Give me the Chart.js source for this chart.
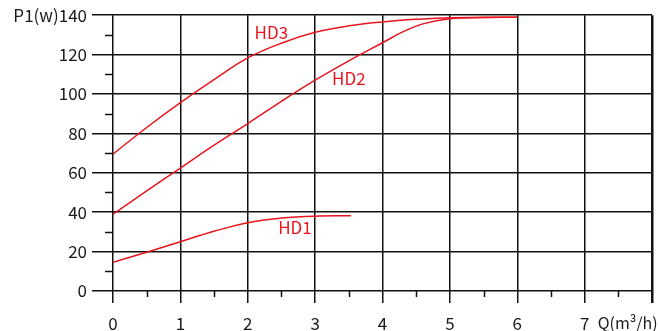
<!DOCTYPE html>
<html>
<head>
<meta charset="utf-8">
<script src="https://cdn.jsdelivr.net/npm/chart.js@4"></script>
<style>
  html, body { margin: 0; padding: 0; background: #fff; }
  #wrap { width: 658px; height: 331px; }
</style>
</head>
<body>
<div id="wrap"><canvas id="chart" width="658" height="331"></canvas></div>
<script>
// --- data ---
const hd1X = [0, 0.5, 1, 1.5, 2, 2.5, 3, 3.53];
const hd1Y = [14.6, 19.7, 25, 30.3, 34.7, 37, 38, 38.2];

const hd2X = [0, 0.5, 1, 1.5, 2, 2.5, 3, 3.5, 4, 4.3, 4.6, 5, 5.5, 6];
const hd2Y = [39, 50.8, 62.4, 74, 85, 96.3, 107, 116.8, 126, 131.5, 135.6, 138.2, 138.8, 139];

const hd3X = [0, 0.5, 1, 1.5, 2, 2.5, 3, 3.5, 4, 4.5, 5, 6];
const hd3Y = [69.5, 83, 95.6, 107.3, 118.3, 125.8, 131.3, 134.6, 136.6, 137.9, 138.7, 139];

const xTicks = [0, 1, 2, 3, 4, 5, 6, 7, 8];
const yTicks = [0, 20, 40, 60, 80, 100, 120, 140];

const RED = '#e8141e';
const INK = '#111';
const FONT = '"Noto Sans CJK SC", "Noto Sans", sans-serif';

function pts(xs, ys) {
  return xs.map((x, i) => ({ x: x, y: ys[i] }));
}

function curve(label, xs, ys) {
  return {
    label: label,
    data: pts(xs, ys),
    borderColor: RED,
    borderWidth: 1.5,
    pointRadius: 0,
    fill: false,
    tension: 0.4
  };
}

// minor ticks, curve names and axis titles
const extras = {
  id: 'extras',
  afterDraw(chart) {
    const ctx = chart.ctx;
    const xs = chart.scales.x, ys = chart.scales.y;
    const a = chart.chartArea;
    ctx.save();
    ctx.strokeStyle = INK;
    ctx.lineWidth = 1.5;
    ctx.beginPath();
    for (let v = 10; v < 140; v += 20) {
      const y = Math.round(ys.getPixelForValue(v)) + 0.5;
      ctx.moveTo(a.left - 8, y);
      ctx.lineTo(a.left, y);
    }
    for (let v = 0.5; v < 8; v += 1) {
      const x = Math.round(xs.getPixelForValue(v)) + 0.5;
      ctx.moveTo(x, a.bottom);
      ctx.lineTo(x, a.bottom + 6);
    }
    ctx.stroke();

    ctx.font = '17px ' + FONT;
    ctx.fillStyle = RED;
    ctx.textAlign = 'center';
    ctx.textBaseline = 'middle';
    ctx.fillText('HD3', xs.getPixelForValue(2.35), ys.getPixelForValue(131.4));
    ctx.fillText('HD2', xs.getPixelForValue(3.5), ys.getPixelForValue(107.6));
    ctx.fillText('HD1', xs.getPixelForValue(2.7), ys.getPixelForValue(32));

    ctx.font = '16px ' + FONT;
    ctx.fillStyle = '#1a1a1a';
    ctx.textAlign = 'left';
    ctx.fillText('Q(m\u00b3/h)', xs.getPixelForValue(7) + 13, 323);
    ctx.restore();
  }
};

new Chart(document.getElementById('chart'), {
  type: 'line',
  data: {
    datasets: [
      curve('HD1', hd1X, hd1Y),
      curve('HD2', hd2X, hd2Y),
      curve('HD3', hd3X, hd3Y)
    ]
  },
  options: {
    responsive: false,
    animation: false,
    layout: { padding: { top: 15, right: 6, left: 0, bottom: 0 } },
    plugins: { legend: { display: false }, tooltip: { enabled: false } },
    scales: {
      x: {
        type: 'linear',
        min: 0, max: 8,
        afterBuildTicks: s => { s.ticks = xTicks.map(v => ({ value: v })); },
        afterFit: s => { s.height = 40; s.paddingLeft = 0; s.paddingRight = 0; },
        border: { display: false },
        grid: {
          color: INK,
          lineWidth: c => c.tick && c.tick.value === 8 ? 2.5 : 1.5,
          tickLength: 12,
          tickColor: INK
        },
        ticks: {
          color: '#1a1a1a',
          font: { family: FONT, size: 17 },
          padding: 10,
          maxRotation: 0,
          callback: v => v === 8 ? '' : String(v)
        }
      },
      y: {
        min: 0, max: 140,
        afterBuildTicks: s => { s.ticks = yTicks.map(v => ({ value: v })); },
        afterFit: s => { s.width = 113; },
        border: { display: false },
        grid: {
          color: INK,
          lineWidth: 1.5,
          tickLength: 21,
          tickColor: INK
        },
        ticks: {
          color: '#1a1a1a',
          font: { family: FONT, size: 17 },
          padding: 5,
          callback: v => v === 140 ? 'P1(w)140' : String(v)
        }
      }
    }
  },
  plugins: [extras]
});
</script>
</body>
</html>
